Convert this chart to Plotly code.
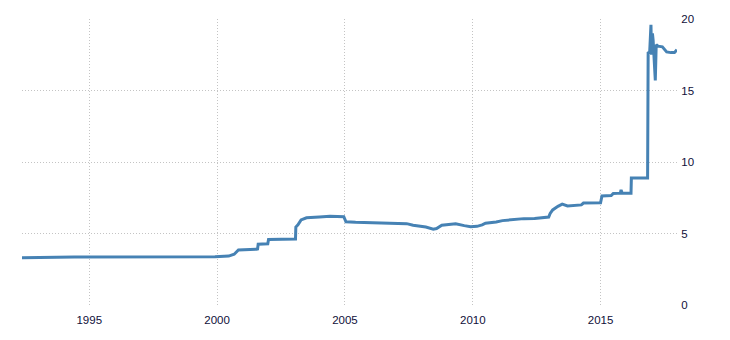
import plotly.graph_objects as go

dates = [
    "1992-05-15", "1993-09-01", "1994-06-01", "1999-12-01", "2000-06-15", "2000-09-01",
    "2000-11-01", "2001-07-15", "2001-08-01", "2001-08-10", "2001-12-25", "2002-01-05",
    "2003-01-25", "2003-01-30", "2003-03-01", "2003-04-15", "2003-07-01", "2004-01-01",
    "2004-06-01", "2004-12-15", "2005-01-15", "2005-06-01", "2006-01-01", "2006-07-01",
    "2007-04-01", "2007-06-01", "2007-09-01", "2007-12-01", "2008-03-01", "2008-06-15",
    "2008-08-01", "2008-10-15", "2009-03-01", "2009-05-01", "2009-09-01", "2009-12-01",
    "2010-03-01", "2010-05-15", "2010-07-01", "2010-12-01", "2011-03-01", "2011-06-01",
    "2012-01-01", "2012-06-01", "2012-12-20", "2013-01-10", "2013-02-15", "2013-05-01",
    "2013-07-01", "2013-09-15", "2014-01-01", "2014-04-01", "2014-05-01", "2014-12-31",
    "2015-01-20", "2015-06-01", "2015-07-01", "2015-10-10", "2015-10-20", "2015-11-05",
    "2016-03-10", "2016-03-15", "2016-11-02", "2016-11-04", "2016-11-06", "2016-11-10",
    "2016-12-01", "2016-12-20", "2016-12-28", "2017-01-10", "2017-01-20", "2017-02-20",
    "2017-03-05", "2017-04-01", "2017-06-01", "2017-07-01", "2017-08-01", "2017-10-01",
    "2017-11-20", "2017-12-25",
]
values = [
    3.31, 3.33, 3.36, 3.38, 3.42, 3.55,
    3.85, 3.90, 3.92, 4.25, 4.28, 4.58,
    4.62, 5.45, 5.60, 5.95, 6.10, 6.15,
    6.20, 6.18, 5.82, 5.78, 5.75, 5.74,
    5.70, 5.69, 5.58, 5.53, 5.45, 5.30,
    5.35, 5.58, 5.62, 5.68, 5.55, 5.48,
    5.50, 5.60, 5.72, 5.80, 5.90, 5.95,
    6.04, 6.05, 6.15, 6.40, 6.65, 6.90,
    7.05, 6.92, 6.94, 7.00, 7.13, 7.15,
    7.62, 7.65, 7.80, 7.82, 8.05, 7.82,
    7.82, 8.88, 8.88, 14.8, 16.5, 17.7,
    17.6, 19.6, 17.5, 19.0, 18.5, 15.7,
    18.2, 18.1, 18.05, 17.9, 17.7, 17.65,
    17.65, 17.85,
]
x_tick_vals = ["1995-01-01", "2000-01-01", "2005-01-01", "2010-01-01", "2015-01-01"]
x_tick_text = ["1995", "2000", "2005", "2010", "2015"]
y_tick_vals = [0, 5, 10, 15, 20]

fig = go.Figure()
fig.add_trace(go.Scatter(
    x=dates, y=values, mode="lines",
    line=dict(color="#4682B4", width=3, shape="linear"),
    hoverinfo="x+y", showlegend=False,
))

font = dict(family="Liberation Sans, Arial, sans-serif", size=11.5, color="#10103a")
fig.update_layout(
    width=730, height=340,
    margin=dict(l=22, r=53, t=19, b=35),
    paper_bgcolor="white", plot_bgcolor="white",
    font=font,
    xaxis=dict(
        range=["1992-05-15", "2017-12-27"],
        tickvals=x_tick_vals, ticktext=x_tick_text,
        showgrid=True, gridcolor="#c4c4c4", griddash="1px,2px", gridwidth=1,
        zeroline=False, showline=False,
        ticks="outside", ticklen=4, tickcolor="rgba(0,0,0,0)", tickfont=font,
    ),
    yaxis=dict(
        range=[0, 20], side="right",
        tickvals=y_tick_vals,
        showgrid=True, gridcolor="#c4c4c4", griddash="1px,2px", gridwidth=1,
        zeroline=False, showline=False,
        ticks="outside", ticklen=1, tickcolor="rgba(0,0,0,0)", tickfont=font,
    ),
)

fig.write_html("out.html")
